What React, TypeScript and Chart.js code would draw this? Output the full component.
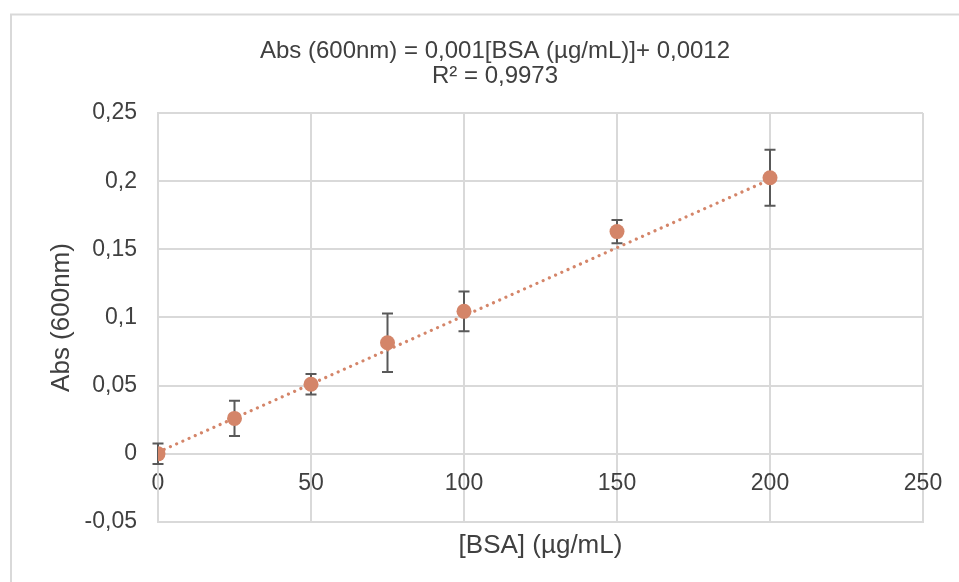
import React, { useEffect, useRef } from "react";
import { Chart, registerables } from "chart.js";

Chart.register(...registerables);

// ---- data ----
const bsaConcentrations = [0, 25, 50, 75, 100, 150, 200];
const absorbance = [0.0, 0.026, 0.051, 0.0815, 0.1045, 0.163, 0.2025];
const absorbanceError = [0.0075, 0.013, 0.0075, 0.0215, 0.0145, 0.0085, 0.0205];

const trendX = [0, 200];
const trendY = [0.0012, 0.2012];

const xTickValues = [0, 50, 100, 150, 200, 250];
const yTickValues = [-0.05, 0, 0.05, 0.1, 0.15, 0.2, 0.25];

const titleLines = ["Abs (600nm) = 0,001[BSA (µg/mL)]+ 0,0012", "R² = 0,9973"];
const xAxisTitle = "[BSA] (µg/mL)";
const yAxisTitle = "Abs (600nm)";

const FONT = "'Liberation Sans', Arial, sans-serif";
const GRID = "#D9D9D9";
const TEXT = "#404040";
const MARKER = "rgb(212,133,105)";

const fmt = (v: number) => String(Number(v.toFixed(3))).replace(".", ",");

const frame = {
  id: "frame",
  beforeDraw(chart: any) {
    const ctx = chart.ctx;
    ctx.save();
    ctx.fillStyle = "#ffffff";
    ctx.fillRect(0, 0, chart.width, chart.height);
    ctx.strokeStyle = "#D9D9D9";
    ctx.lineWidth = 2;
    ctx.beginPath();
    ctx.moveTo(11, chart.height);
    ctx.lineTo(11, 14.5);
    ctx.lineTo(chart.width, 14.5);
    ctx.stroke();
    ctx.restore();
  },
};

const errorBars = {
  id: "errorBars",
  beforeDatasetsDraw(chart: any) {
    const ctx = chart.ctx;
    const xs = chart.scales.x;
    const ys = chart.scales.y;
    ctx.save();
    ctx.strokeStyle = "#595959";
    ctx.lineWidth = 2;
    bsaConcentrations.forEach((xv, i) => {
      const px = xs.getPixelForValue(xv);
      const top = ys.getPixelForValue(absorbance[i] + absorbanceError[i]);
      const bot = ys.getPixelForValue(absorbance[i] - absorbanceError[i]);
      ctx.beginPath();
      ctx.moveTo(px, top);
      ctx.lineTo(px, bot);
      ctx.moveTo(px - 5.5, top);
      ctx.lineTo(px + 5.5, top);
      ctx.moveTo(px - 5.5, bot);
      ctx.lineTo(px + 5.5, bot);
      ctx.stroke();
    });
    ctx.restore();
  },
};

export default function App() {
  const ref = useRef<HTMLCanvasElement | null>(null);

  useEffect(() => {
    if (!ref.current) return;
    const chart = new Chart(ref.current, {
      type: "scatter",
      data: {
        datasets: [
          {
            label: "Abs",
            data: bsaConcentrations.map((x, i) => ({ x, y: absorbance[i] })),
            backgroundColor: MARKER,
            borderColor: MARKER,
            pointRadius: 7.5,
            pointBorderWidth: 0,
            showLine: false,
          },
          {
            label: "Trend",
            type: "line",
            data: trendX.map((x, i) => ({ x, y: trendY[i] })),
            borderColor: MARKER,
            borderWidth: 3.2,
            borderDash: [0.001, 6.8],
            borderCapStyle: "round",
            pointRadius: 0,
            fill: false,
          } as any,
        ],
      },
      options: {
        responsive: false,
        animation: false,
        devicePixelRatio: 1,
        layout: { padding: { left: 31, right: 0, top: 0, bottom: 0 } },
        plugins: {
          legend: { display: false },
          tooltip: { enabled: false },
          title: {
            display: true,
            text: titleLines,
            color: TEXT,
            font: { family: FONT, size: 24, weight: "normal", lineHeight: 25 / 24 },
            padding: { top: 39, bottom: 24 },
          },
        },
        scales: {
          x: {
            type: "linear",
            position: "bottom",
            min: 0,
            max: 250,
            afterBuildTicks: (s: any) => {
              s.ticks = xTickValues.map((v) => ({ value: v }));
            },
            afterFit: (s: any) => {
              s.height = 60;
            },
            ticks: { display: false },
            grid: { color: GRID, lineWidth: 2, drawTicks: false },
            border: { display: true, color: GRID, width: 2 },
            title: {
              display: true,
              text: xAxisTitle,
              color: TEXT,
              font: { family: FONT, size: 26 },
              padding: { top: 0, bottom: 21 },
            },
          },
          xLabels: {
            type: "linear",
            axis: "x",
            position: { y: 0 },
            min: 0,
            max: 250,
            afterBuildTicks: (s: any) => {
              s.ticks = xTickValues.map((v) => ({ value: v }));
            },
            grid: { display: false, drawTicks: false },
            border: { display: false },
            ticks: {
              color: TEXT,
              font: { family: FONT, size: 23 },
              padding: 16,
              maxRotation: 0,
              callback: (v: any) => fmt(Number(v)),
            },
          } as any,
          y: {
            type: "linear",
            position: "left",
            min: -0.05,
            max: 0.25,
            afterBuildTicks: (s: any) => {
              s.ticks = yTickValues.map((v) => ({ value: v }));
            },
            afterFit: (s: any) => {
              s.width = 127;
            },
            grid: { color: GRID, lineWidth: 2, drawTicks: false },
            border: { display: true, color: GRID, width: 2 },
            ticks: {
              color: TEXT,
              font: { family: FONT, size: 23 },
              padding: 21,
              callback: (v: any) => fmt(Number(v)),
            },
            title: {
              display: true,
              text: yAxisTitle,
              color: TEXT,
              font: { family: FONT, size: 26 },
              padding: { top: 15, bottom: 0 },
            },
          },
          ySpacer: {
            type: "linear",
            axis: "y",
            position: "right",
            min: -0.05,
            max: 0.25,
            grid: { display: false, drawTicks: false },
            border: { display: false },
            ticks: { display: false },
            afterFit: (s: any) => {
              s.width = 36;
            },
          } as any,
        },
      },
      plugins: [frame, errorBars],
    });
    return () => chart.destroy();
  }, []);

  return (
    <div style={{ position: "absolute", left: 0, top: 0, width: 959, height: 582 }}>
      <canvas ref={ref} width={959} height={582} style={{ display: "block" }} />
    </div>
  );
}
